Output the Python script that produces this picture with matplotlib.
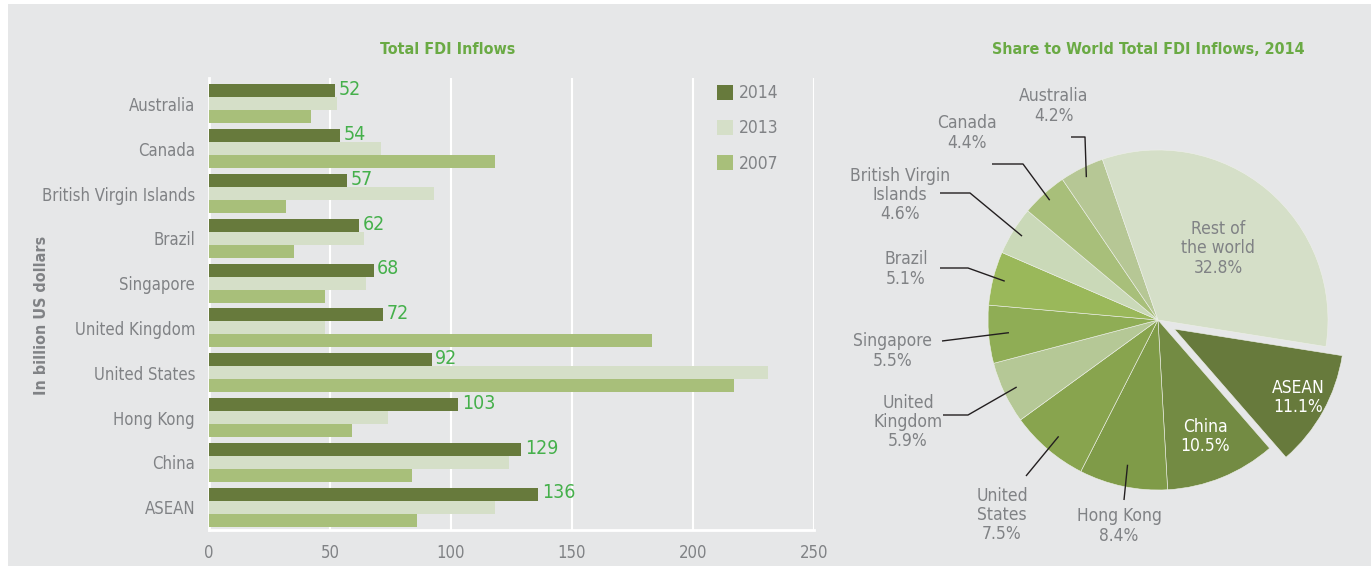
import numpy as np
import matplotlib
matplotlib.use('Agg')
import matplotlib.pyplot as plt
from matplotlib.patches import Rectangle

plt.rcParams['font.family'] = ['DejaVu Sans']
plt.rcParams['font.stretch'] = 'condensed'

# datos de las barras (miles de millones de USD)
paises = ['Australia', 'Canada', 'British Virgin Islands', 'Brazil', 'Singapore',
          'United Kingdom', 'United States', 'Hong Kong', 'China', 'ASEAN']
fdi_2014 = [52, 54, 57, 62, 68, 72, 92, 103, 129, 136]
fdi_2013 = [53, 71, 93, 64, 65, 48, 231, 74, 124, 118]
fdi_2007 = [42, 118, 32, 35, 48, 183, 217, 59, 84, 86]
años = ['2014', '2013', '2007']

# datos del pastel (% del total mundial 2014)
pie_labels = ['ASEAN', 'China', 'Hong Kong', 'United\nStates', 'United\nKingdom',
              'Singapore', 'Brazil', 'British Virgin\nIslands', 'Canada', 'Australia',
              'Rest of\nthe world']
pie_share = [11.1, 10.5, 8.4, 7.5, 5.9, 5.5, 5.1, 4.6, 4.4, 4.2, 32.8]

# colores
fondo = '#e6e7e8'
gris = '#808285'
verde_titulo = '#6aaa44'
verde_valor = '#45b04b'
col_barras = ['#677a3c', '#d5dfc8', '#a8bf7a']
col_pie = ['#677a3c', '#738b43', '#7f9b48', '#88a44e', '#b5c896', '#8fad55',
           '#9ab85a', '#cad9b8', '#a8bf7a', '#b6c795', '#d5dfc8']

W, H = 1371, 566
fig = plt.figure(figsize=(W / 100, H / 100), dpi=100, facecolor='white')
fig.patches.append(Rectangle((8 / W, 0), 1, 1 - 4 / H, transform=fig.transFigure,
                             facecolor=fondo, edgecolor='none', zorder=-10))


def rect(x0, y0, x1, y1):
    # caja en pixeles de la imagen (y hacia abajo) -> coordenadas de figura
    return [x0 / W, 1 - y1 / H, (x1 - x0) / W, (y1 - y0) / H]


# ---------------- barras ----------------
ax = fig.add_axes(rect(209, 78, 814, 530))
ax.set_facecolor(fondo)
y = np.arange(len(paises))
h = 0.29
b14 = ax.barh(y - h, fdi_2014, height=h, color=col_barras[0], label=años[0], zorder=3)
b13 = ax.barh(y, fdi_2013, height=h, color=col_barras[1], label=años[1], zorder=3)
b07 = ax.barh(y + h, fdi_2007, height=h, color=col_barras[2], label=años[2], zorder=3)

for yi, v in zip(y, fdi_2014):
    ax.text(v + 1.5, yi - h - 0.03, str(v), color=verde_valor, fontsize=14,
            va='center', ha='left', zorder=4)

ax.set_xlim(0, 250)
ax.set_ylim(len(paises) - 0.49, -0.58)
ax.set_xticks([0, 50, 100, 150, 200, 250])
ax.set_yticks(y)
ax.set_yticklabels(paises)
ax.tick_params(axis='both', length=0, labelsize=12, colors=gris)
ax.tick_params(axis='y', pad=10)
ax.tick_params(axis='x', pad=10)
ax.grid(axis='x', color='white', linewidth=1.5, zorder=1)
for s in ['top', 'right']:
    ax.spines[s].set_visible(False)
for s in ['left', 'bottom']:
    ax.spines[s].set_color('white')
    ax.spines[s].set_linewidth(2)
ax.legend(loc='upper left', bbox_to_anchor=((717 - 209) / 605, (530 - 84) / 452),
          frameon=False, fontsize=12.5, labelcolor=gris, handlelength=0.95,
          handleheight=0.95, handletextpad=0.3, labelspacing=1.0, borderpad=0,
          borderaxespad=0)

fig.text(42 / W, 1 - 315 / H, 'In billion US dollars', fontsize=11.5, fontweight='bold',
         color=gris, rotation=90, ha='center', va='center')
fig.text(448 / W, 1 - 50 / H, 'Total FDI Inflows', fontsize=11.5, fontweight='bold',
         color=verde_titulo, ha='center', va='center')

# ---------------- pastel ----------------
R = 170.0
cx, cy = 1158, 320
pax = fig.add_axes(rect(830, 70, 1371, 566))
pax.set_facecolor('none')
explode = [0.11] + [0] * (len(pie_share) - 1)
wedges, _ = pax.pie(pie_share, colors=col_pie, startangle=-9, counterclock=False,
                    explode=explode, radius=1,
                    wedgeprops=dict(edgecolor='#eef0ea', linewidth=0.4))
pax.set_aspect('auto')
pax.set_xlim((830 - cx) / R, (1371 - cx) / R)
pax.set_ylim((cy - 566) / R, (cy - 70) / R)
pax.axis('off')


def px(x, yy):
    return (x - cx) / R, (cy - yy) / R


def mid(w):
    return np.deg2rad((w.theta1 + w.theta2) / 2)


# etiquetas dentro
dentro = {0: (0.83, 'white'), 1: (0.74, 'white'), 10: (0.55, gris)}
for i, (r, c) in dentro.items():
    w = wedges[i]
    a = mid(w)
    ox, oy = w.center
    pax.text(ox + r * np.cos(a), oy + r * np.sin(a),
             f'{pie_labels[i]}\n{pie_share[i]}%', color=c, fontsize=12.5,
             ha='center', va='center', linespacing=1.1)

# etiquetas fuera con lineas guia
fuera = {
    9: (0.94, (1054, 106), [(1085, 137), (1071, 137)]),
    8: (0.95, (967, 133), [(1023, 164), (992, 164)]),
    7: (0.94, (900, 195), [(970, 193), (940, 193)]),
    6: (0.93, (906, 269), [(968, 268), (940, 268)]),
    5: (0.88, (893, 351), [(942, 341)]),
    4: (0.92, (908, 422), [(968, 415), (943, 415)]),
    3: (0.90, (1002, 515), [(1026, 476)]),
    2: (0.87, (1119, 526), [(1124, 500)]),
}
for i, (r, pos, pts) in fuera.items():
    a = mid(wedges[i])
    xs = [r * np.cos(a)] + [px(*p)[0] for p in pts]
    ys = [r * np.sin(a)] + [px(*p)[1] for p in pts]
    pax.plot(xs, ys, color='#231f20', linewidth=1.0, solid_capstyle='butt')
    tx, ty = px(*pos)
    pax.text(tx, ty, f'{pie_labels[i]}\n{pie_share[i]}%', color=gris, fontsize=12.5,
             ha='center', va='center', linespacing=1.1)

fig.text(1148 / W, 1 - 50 / H, 'Share to World Total FDI Inflows, 2014', fontsize=11.5,
         fontweight='bold', color=verde_titulo, ha='center', va='center')

fig.savefig('out.png', dpi=100, facecolor=fig.get_facecolor())
